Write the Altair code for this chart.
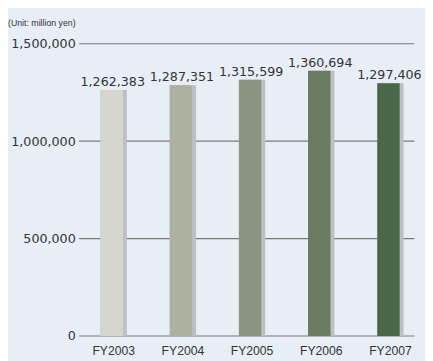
import altair as alt
import pandas as pd

years = ["FY2003", "FY2004", "FY2005", "FY2006", "FY2007"]
values = [1262383, 1287351, 1315599, 1360694, 1297406]
bar_colors = ["#d4d5cb", "#adb19f", "#8a9580", "#6a7b62", "#4a6747"]
tick_values = [0, 500000, 1000000, 1500000]

df = pd.DataFrame({"year": years, "value": values, "color": bar_colors})
df["label"] = df["value"].map(lambda v: f"{v:,}")
grid_df = pd.DataFrame({"tick": tick_values})

xscale = alt.Scale(domain=years, paddingInner=0, paddingOuter=0)
yscale = alt.Scale(domain=[0, 1500000], nice=False)
yaxis = alt.Axis(values=tick_values, format=",d", title=None, grid=False,
                 domain=False, ticks=False, labelFont="DejaVu Sans",
                 labelFontSize=13, labelColor="#333333", labelPadding=4)

grid = alt.Chart(grid_df).mark_rule(color="#7a7a7a", strokeWidth=1.2).encode(
    y=alt.Y("tick:Q", scale=yscale, axis=yaxis),
    x=alt.value(0),
    x2=alt.value(344),
)

base = alt.Chart(df).encode(
    x=alt.X("year:N", scale=xscale, sort=years,
            axis=alt.Axis(title=None, domain=False, ticks=False, labelAngle=0,
                          labelFont="Liberation Sans", labelFontSize=12.5,
                          labelColor="#333333", labelPadding=9)),
    y=alt.Y("value:Q", scale=yscale, axis=yaxis),
)

shadow = base.mark_bar(size=27, color="#bcbfc3")
bars = base.mark_bar(size=23, xOffset=-2).encode(
    color=alt.Color("color:N", scale=None)
)
labels = base.mark_text(baseline="alphabetic", dy=-4, xOffset=-1, font="DejaVu Sans",
                        fontSize=13, color="#333333").encode(text="label:N")

unit = alt.Chart(pd.DataFrame({"t": ["(Unit: million yen)"]})).mark_text(
    align="left", baseline="middle", font="Liberation Sans", fontSize=9,
    color="#333333"
).encode(text="t:N", x=alt.value(-73), y=alt.value(-21))

chart = alt.layer(grid, shadow, bars, labels, unit).resolve_scale(y="shared").properties(
    width=355, height=300,
    autosize=alt.AutoSizeParams(type="none"),
    padding={"left": 73, "top": 32, "right": 0, "bottom": 21},
    background="#e7eef6",
).configure_view(stroke=None)

chart.save("out.html", embed_options={"renderer": "svg", "actions": False})
